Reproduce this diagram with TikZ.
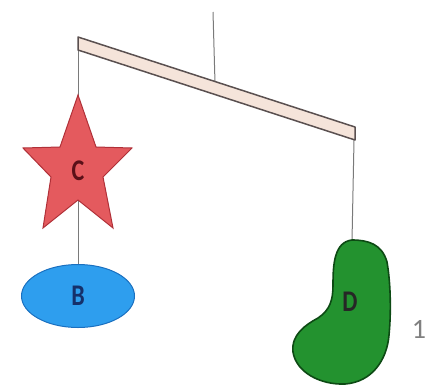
\documentclass[tikz,border=0pt]{standalone}
\usepackage{fontspec}
\setmainfont{Carlito}
\usetikzlibrary{shapes.geometric}
\definecolor{beamfill}{HTML}{F5E4DA}
\definecolor{beamedge}{HTML}{5A5050}
\definecolor{stringcol}{HTML}{7A7A7A}
\definecolor{starfill}{HTML}{E45A5E}
\definecolor{staredge}{HTML}{B03038}
\definecolor{cletter}{HTML}{5A1018}
\definecolor{ellfill}{HTML}{2E9EEE}
\definecolor{elledge}{HTML}{1A70C0}
\definecolor{bletter}{HTML}{15306A}
\definecolor{blobfill}{HTML}{23922F}
\definecolor{blobedge}{HTML}{0D4A14}
\definecolor{numcol}{HTML}{808080}
\tikzset{
  stringline/.style={draw=stringcol, line width=1pt},
  letter/.style={font=\bfseries\fontsize{30}{30}\selectfont, inner sep=0pt, xscale=0.8},
}
\begin{document}
\begin{tikzpicture}[x=1pt,y=-1pt]
\useasboundingbox (0,0) rectangle (427,386);
% attachment coordinates
\coordinate (hook) at (213,12);
\coordinate (pivot) at (215,83);
\coordinate (beamL) at (78,50);
\coordinate (beamR) at (354,140);
% strings
\draw[stringline] (hook) -- (pivot);
\node[ellipse, fill=ellfill, draw=elledge, line width=1pt, minimum width=113pt, minimum height=63pt, inner sep=0pt] (B) at (78,296) {};
\draw[stringline] (beamL) -- (B.north);
\coordinate (blobtop) at (352,241);
\draw[stringline] (beamR) -- (blobtop);
% beam
\draw[fill=beamfill, draw=beamedge, line width=1.5pt, line join=round]
  (78,37) -- (355,127) -- (355,140) -- (78,50) -- cycle;
% star
\draw[fill=starfill, draw=staredge, line width=1pt, line join=miter]
  (78,95) -- (96,147) -- (132,148) -- (103,177) -- (113,228) -- (78,200)
  -- (43,228) -- (51,177) -- (23,148) -- (60,147) -- cycle;
\node[letter, text=cletter] (C) at (78,171) {C};
\node[letter, text=bletter] (Bl) at (B) {B};
% blob D
\draw[fill=blobfill, draw=blobedge, line width=1.6pt]
  (352,240) .. controls (368,240) and (382,244) .. (387,262)
  .. controls (391,285) and (391,315) .. (389,335)
  .. controls (387,360) and (372,382) .. (345,384)
  .. controls (320,385) and (296,372) .. (293,352)
  .. controls (291,335) and (305,325) .. (318,318)
  .. controls (330,310) and (333,300) .. (333,285)
  .. controls (333,265) and (334,242) .. (352,240) -- cycle;
\node[letter, text=black!85] (D) at (350,302) {D};
\node[font=\fontsize{28}{28}\selectfont, text=numcol, inner sep=0pt] (one) at (419,329) {1};
\end{tikzpicture}
\end{document}
